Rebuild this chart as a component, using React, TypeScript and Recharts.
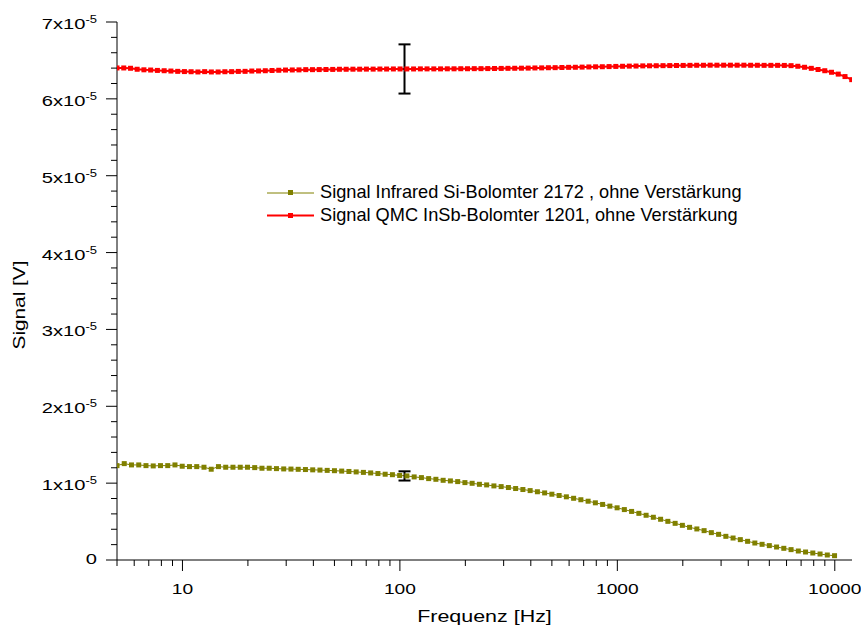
import React from 'react';
import { ComposedChart, Line, Scatter, ErrorBar, XAxis, YAxis, Legend } from 'recharts';

// Frequencies (Hz) of the Si-bolometer sweep
const freqGreen = [
  5, 5.399, 5.829, 6.294, 6.796, 7.338, 7.924, 8.556, 9.238, 9.975,
  10.77, 11.63, 12.56, 13.56, 14.64, 15.81, 17.07, 18.44, 19.91, 21.49,
  23.21, 25.06, 27.06, 29.22, 31.55, 34.06, 36.78, 39.72, 42.89, 46.31,
  50, 53.99, 58.29, 62.94, 67.96, 73.38, 79.24, 85.56, 92.38, 99.75,
  107.7, 116.3, 125.6, 135.6, 146.4, 158.1, 170.7, 184.4, 199.1, 214.9,
  232.1, 250.6, 270.6, 292.2, 315.5, 340.6, 367.8, 397.2, 428.9, 463.1,
  500, 539.9, 582.9, 629.4, 679.6, 733.8, 792.4, 855.6, 923.8, 997.5,
  1077, 1163, 1256, 1356, 1464, 1581, 1707, 1844, 1991, 2149,
  2321, 2506, 2706, 2922, 3155, 3406, 3678, 3972, 4289, 4631,
  5000, 5399, 5829, 6294, 6796, 7338, 7924, 8556, 9238, 9975,
];
// Signal, in units of 1e-5 V
const sigGreen = [
  1.228, 1.254, 1.237, 1.237, 1.228, 1.224, 1.228, 1.228, 1.237, 1.220,
  1.215, 1.215, 1.207, 1.181, 1.215, 1.207, 1.207, 1.207, 1.207, 1.202,
  1.194, 1.194, 1.189, 1.185, 1.183, 1.180, 1.177, 1.173, 1.170, 1.166,
  1.162, 1.157, 1.152, 1.146, 1.140, 1.133, 1.125, 1.116, 1.110, 1.100,
  1.094, 1.081, 1.072, 1.059, 1.050, 1.037, 1.029, 1.020, 1.007, 0.998,
  0.985, 0.977, 0.964, 0.955, 0.943, 0.930, 0.917, 0.903, 0.888, 0.873,
  0.856, 0.839, 0.822, 0.803, 0.784, 0.765, 0.744, 0.723, 0.701, 0.679,
  0.656, 0.632, 0.607, 0.582, 0.556, 0.530, 0.503, 0.477, 0.451, 0.425,
  0.404, 0.382, 0.356, 0.334, 0.308, 0.286, 0.265, 0.243, 0.221, 0.204,
  0.187, 0.169, 0.152, 0.135, 0.117, 0.104, 0.091, 0.078, 0.065, 0.056,
];

// Frequencies (Hz) of the InSb-bolometer sweep
const freqRed = [
  5, 5.37, 5.77, 6.19, 6.65, 7.14, 7.67, 8.24, 8.85, 9.51,
  10.21, 10.96, 11.78, 12.65, 13.58, 14.59, 15.67, 16.83, 18.07, 19.41,
  20.84, 22.39, 24.04, 25.82, 27.73, 29.78, 31.99, 34.35, 36.9, 39.63,
  42.56, 45.71, 49.09, 52.72, 56.62, 60.81, 65.31, 70.14, 75.33, 80.91,
  86.89, 93.32, 100.2, 107.6, 115.6, 124.2, 133.3, 143.2, 153.8, 165.2,
  177.4, 190.5, 204.6, 219.8, 236, 253.5, 272.3, 292.4, 314, 337.3,
  362.2, 389, 417.8, 448.7, 481.9, 517.6, 555.9, 597, 641.2, 688.6,
  739.6, 794.3, 853, 916.2, 983.9, 1057, 1135, 1219, 1309, 1406,
  1510, 1622, 1742, 1871, 2009, 2158, 2317, 2489, 2673, 2871,
  3083, 3311, 3556, 3819, 4102, 4405, 4731, 5081, 5457, 5861,
  6295, 6761, 7261, 7798, 8375, 8995, 9660, 10375, 11142, 11966,
];
const sigRed = [
  6.402, 6.402, 6.398, 6.385, 6.378, 6.375, 6.370, 6.366, 6.362, 6.358,
  6.355, 6.353, 6.350, 6.354, 6.350, 6.350, 6.353, 6.354, 6.357, 6.358,
  6.362, 6.363, 6.366, 6.369, 6.372, 6.375, 6.376, 6.377, 6.380, 6.380,
  6.381, 6.382, 6.383, 6.385, 6.385, 6.386, 6.386, 6.387, 6.387, 6.388,
  6.388, 6.389, 6.389, 6.389, 6.389, 6.390, 6.390, 6.390, 6.390, 6.391,
  6.391, 6.392, 6.392, 6.393, 6.393, 6.394, 6.395, 6.396, 6.397, 6.398,
  6.399, 6.400, 6.402, 6.403, 6.405, 6.406, 6.408, 6.410, 6.411, 6.413,
  6.415, 6.417, 6.418, 6.420, 6.422, 6.424, 6.426, 6.427, 6.429, 6.430,
  6.431, 6.432, 6.433, 6.434, 6.435, 6.436, 6.437, 6.437, 6.438, 6.438,
  6.438, 6.438, 6.438, 6.438, 6.437, 6.437, 6.436, 6.436, 6.436, 6.435,
  6.432, 6.424, 6.411, 6.397, 6.382, 6.366, 6.346, 6.322, 6.290, 6.250,
];

// Error bars (one per series)
const errFreq = [105];
const errRedCenter = [6.389];
const errRedHalf = [0.32];
const errGreenCenter = [1.094];
const errGreenHalf = [0.06];

// Axis ticks
const xMajorTicks = [10, 100, 1000, 10000];
const xMajorLabels = ['10', '100', '1000', '10000'];
const xMinorTicks = [
  5, 6, 7, 8, 9,
  20, 30, 40, 50, 60, 70, 80, 90,
  200, 300, 400, 500, 600, 700, 800, 900,
  2000, 3000, 4000, 5000, 6000, 7000, 8000, 9000,
];
const yMajorTicks = [0, 1, 2, 3, 4, 5, 6, 7];
const yMajorLabels = ['0', '1x10', '2x10', '3x10', '4x10', '5x10', '6x10', '7x10'];
const yExponent = '-5';
const yMinorTicks = [
  0.2, 0.4, 0.6, 0.8, 1.2, 1.4, 1.6, 1.8, 2.2, 2.4, 2.6, 2.8,
  3.2, 3.4, 3.6, 3.8, 4.2, 4.4, 4.6, 4.8, 5.2, 5.4, 5.6, 5.8, 6.2, 6.4, 6.6, 6.8,
];

const seriesNames = [
  'Signal Infrared Si-Bolomter 2172 , ohne Verstärkung',
  'Signal QMC InSb-Bolomter 1201, ohne Verstärkung',
];
const GREEN = '#808000';
const RED = '#ff0000';
const FONT = '"Liberation Sans", Arial, Helvetica, sans-serif';

const greenData = freqGreen.map((f, i) => ({ f, v: sigGreen[i] }));
const redData = freqRed.map((f, i) => ({ f, v: sigRed[i] }));
const errRedData = errFreq.map((f, i) => ({ f, v: errRedCenter[i], e: errRedHalf[i] }));
const errGreenData = errFreq.map((f, i) => ({ f, v: errGreenCenter[i], e: errGreenHalf[i] }));

const xTicks = [...xMinorTicks, ...xMajorTicks].sort((a, b) => a - b);
const yTicks = [...yMinorTicks, ...yMajorTicks].sort((a, b) => a - b);

const XTick = (props: any) => {
  const { x, y, payload } = props;
  const idx = xMajorTicks.indexOf(payload.value);
  const major = idx >= 0;
  return (
    <g>
      <line x1={x} y1={y} x2={x} y2={y + (major ? 11 : 6)} stroke="#000" strokeWidth={1} />
      {major && (
        <text
          transform={`translate(${x},${y + 34}) scale(1.24,1)`}
          textAnchor="middle"
          fontSize={15.5}
          fontFamily={FONT}
          fill="#000"
        >
          {xMajorLabels[idx]}
        </text>
      )}
    </g>
  );
};

const YTick = (props: any) => {
  const { x, y, payload } = props;
  const idx = yMajorTicks.indexOf(payload.value);
  const major = idx >= 0;
  return (
    <g>
      <line x1={x} y1={y} x2={x - (major ? 11 : 6)} y2={y} stroke="#000" strokeWidth={1} />
      {major && idx === 0 && (
        <text
          transform={`translate(${x - 20},${y + 4}) scale(1.3,1)`}
          textAnchor="end"
          fontSize={15.5}
          fontFamily={FONT}
          fill="#000"
        >
          {yMajorLabels[idx]}
        </text>
      )}
      {major && idx > 0 && (
        <text
          transform={`translate(${x - 20},${y + 7}) scale(1.3,1)`}
          textAnchor="end"
          fontSize={15.5}
          fontFamily={FONT}
          fill="#000"
        >
          {yMajorLabels[idx]}
          <tspan dy={-6} fontSize={10}>{yExponent}</tspan>
        </text>
      )}
    </g>
  );
};

const square = (color: string) => (p: any) => {
  if (p.cx == null || p.cy == null) return <g key={`e${p.index}`} />;
  return (
    <rect key={`d${p.index}`} x={p.cx - 2.5} y={p.cy - 2.5} width={5} height={5} fill={color} />
  );
};

const XTitle = (props: any) => {
  const vb = props.viewBox || { x: 117, y: 560, width: 735, height: 70 };
  return (
    <text
      transform={`translate(${vb.x + vb.width / 2},${vb.y + 62}) scale(1.3,1)`}
      textAnchor="middle"
      fontSize={16.5}
      fontFamily={FONT}
      fill="#000"
    >
      Frequenz [Hz]
    </text>
  );
};

const YTitle = (props: any) => {
  const vb = props.viewBox || { x: 0, y: 22, width: 117, height: 538 };
  return (
    <text
      transform={`translate(${vb.x + 24.5},${vb.y + vb.height / 2 + 14}) rotate(-90) scale(1.3,1)`}
      textAnchor="middle"
      fontSize={16}
      fontFamily={FONT}
      fill="#000"
    >
      Signal [V]
    </text>
  );
};

const renderLegend = () => (
  <div style={{ fontFamily: FONT, fontSize: 18.2, color: '#000', lineHeight: '23px' }}>
    {seriesNames.map((name, i) => {
      const color = i === 0 ? GREEN : RED;
      return (
        <div key={name} style={{ display: 'flex', alignItems: 'center', height: 23, whiteSpace: 'nowrap' }}>
          <svg width={47} height={23} style={{ display: 'block' }}>
            <line
              x1={0}
              x2={47}
              y1={i === 0 ? 12 : 11.5}
              y2={i === 0 ? 12 : 11.5}
              stroke={color}
              strokeWidth={i === 0 ? 1 : 2}
            />
            <rect x={21} y={9} width={5} height={5} fill={color} />
          </svg>
          <span style={{ marginLeft: 6 }}>{name}</span>
        </div>
      );
    })}
  </div>
);

export default function App() {
  return (
    <div style={{ position: 'absolute', left: 0, top: 0, width: 861, height: 630, overflow: 'hidden' }}>
      <ComposedChart
        width={861}
        height={630}
        margin={{ top: 22, right: 9, left: 0, bottom: 0 }}
        style={{ fontFamily: FONT }}
      >
        <XAxis
          dataKey="f"
          type="number"
          scale="log"
          domain={[5, 12000]}
          allowDataOverflow
          ticks={xTicks}
          interval={0}
          tick={<XTick />}
          tickLine={false}
          tickSize={0}
          tickMargin={0}
          height={70}
          axisLine={{ stroke: '#000', strokeWidth: 1 }}
          label={{ content: <XTitle /> } as any}
        />
        <YAxis
          type="number"
          domain={[0, 7]}
          allowDataOverflow
          ticks={yTicks}
          interval={0}
          tick={<YTick />}
          tickLine={false}
          tickSize={0}
          tickMargin={0}
          width={117}
          axisLine={{ stroke: '#000', strokeWidth: 1 }}
          label={{ content: <YTitle /> } as any}
        />
        <Legend
          layout="vertical"
          align="center"
          verticalAlign="middle"
          wrapperStyle={{ left: 267, top: 180.5, bottom: 'auto', right: 'auto', width: 'auto' }}
          content={renderLegend}
        />
        <Line
          data={greenData}
          dataKey="v"
          name={seriesNames[0]}
          stroke={GREEN}
          strokeWidth={1}
          dot={square(GREEN)}
          activeDot={false}
          isAnimationActive={false}
        />
        <Line
          data={redData}
          dataKey="v"
          name={seriesNames[1]}
          stroke={RED}
          strokeWidth={2}
          dot={square(RED)}
          activeDot={false}
          isAnimationActive={false}
        />
        <Scatter data={errRedData} dataKey="v" shape={() => <g />} isAnimationActive={false} legendType="none">
          <ErrorBar dataKey="e" direction="y" width={6} stroke="#000" strokeWidth={2} isAnimationActive={false} />
        </Scatter>
        <Scatter data={errGreenData} dataKey="v" shape={() => <g />} isAnimationActive={false} legendType="none">
          <ErrorBar dataKey="e" direction="y" width={6} stroke="#000" strokeWidth={2} isAnimationActive={false} />
        </Scatter>
      </ComposedChart>
    </div>
  );
}
